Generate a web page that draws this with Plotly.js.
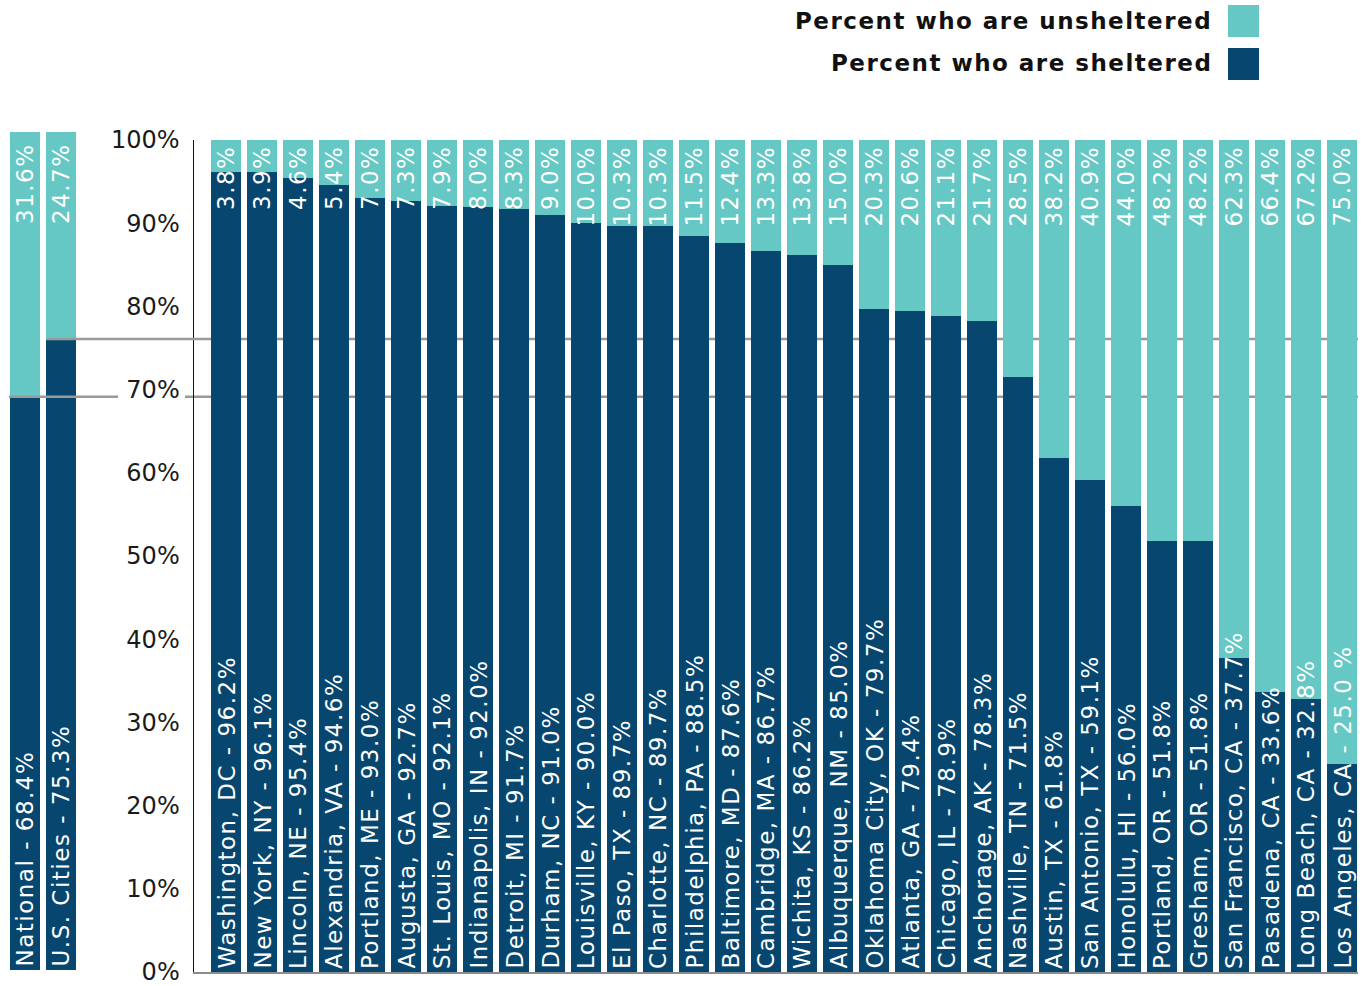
<!DOCTYPE html>
<html>
<head>
<meta charset="utf-8">
<script src="https://cdn.plot.ly/plotly-3.0.1.min.js"></script>
<style>
  html, body { margin: 0; padding: 0; background: #ffffff; }
  #chart { width: 1363px; height: 986px; }
  text.annotation-text { letter-spacing: 1.5px; }
</style>
</head>
<body>
<div id="chart"></div>
<script>
// ---------- data ----------
const cities = [
  "Washington, DC", "New York, NY", "Lincoln, NE", "Alexandria, VA", "Portland, ME",
  "Augusta, GA", "St. Louis, MO", "Indianapolis, IN", "Detroit, MI", "Durham, NC",
  "Louisville, KY", "El Paso, TX", "Charlotte, NC", "Philadelphia, PA", "Baltimore, MD",
  "Cambridge, MA", "Wichita, KS", "Albuquerque, NM", "Oklahoma City, OK", "Atlanta, GA",
  "Chicago, IL", "Anchorage, AK", "Nashville, TN", "Austin, TX", "San Antonio, TX",
  "Honolulu, HI", "Portland, OR", "Gresham, OR", "San Francisco, CA", "Pasadena, CA",
  "Long Beach, CA", "Los Angeles, CA"
];
const sheltered = [
  96.2, 96.1, 95.4, 94.6, 93.0, 92.7, 92.1, 92.0, 91.7, 91.0,
  90.0, 89.7, 89.7, 88.5, 87.6, 86.7, 86.2, 85.0, 79.7, 79.4,
  78.9, 78.3, 71.5, 61.8, 59.1, 56.0, 51.8, 51.8, 37.7, 33.6,
  32.8, 25.0
];
const unsheltered = [
  3.8, 3.9, 4.6, 5.4, 7.0, 7.3, 7.9, 8.0, 8.3, 9.0,
  10.0, 10.3, 10.3, 11.5, 12.4, 13.3, 13.8, 15.0, 20.3, 20.6,
  21.1, 21.7, 28.5, 38.2, 40.9, 44.0, 48.2, 48.2, 62.3, 66.4,
  67.2, 75.0
];
const summaryNames = ["National", "U.S. Cities"];
const summarySheltered = [68.4, 75.3];
const summaryUnsheltered = [31.6, 24.7];
const yTickValues = [0, 10, 20, 30, 40, 50, 60, 70, 80, 90, 100];
const yTickLabels = ["0%", "10%", "20%", "30%", "40%", "50%", "60%", "70%", "80%", "90%", "100%"];
const legendLabels = ["Percent who are unsheltered", "Percent who are sheltered"];

// ---------- style ----------
const DARK = "#07476f";
const LIGHT = "#66c8c5";
const FONT = "DejaVu Sans";
const W = 1358, H = 986;            // paper size (margin l=0, r=5, t=0, b=0)
const px = x => x / W;
const py = y => (H - y) / H;

function fmt(v) { return v.toFixed(1); }

const traces = [
  { type: "bar", x: cities, y: sheltered, name: legendLabels[1], marker: { color: DARK },
    xaxis: "x", yaxis: "y", hoverinfo: "x+y", showlegend: false },
  { type: "bar", x: cities, y: unsheltered, name: legendLabels[0], marker: { color: LIGHT },
    xaxis: "x", yaxis: "y", hoverinfo: "x+y", showlegend: false },
  { type: "bar", x: summaryNames, y: summarySheltered, name: legendLabels[1], marker: { color: DARK },
    xaxis: "x2", yaxis: "y2", hoverinfo: "x+y", showlegend: false },
  { type: "bar", x: summaryNames, y: summaryUnsheltered, name: legendLabels[0], marker: { color: LIGHT },
    xaxis: "x2", yaxis: "y2", hoverinfo: "x+y", showlegend: false }
];

const labelFont = { family: FONT, size: 23, color: "#ffffff" };
const annotations = [];
cities.forEach((c, i) => {
  annotations.push({ x: c, y: 0, xref: "x", yref: "y", text: c + " - " + fmt(sheltered[i]) + (c === "Los Angeles, CA" ? " %" : "%"),
    textangle: -90, showarrow: false, xanchor: "center", yanchor: "bottom", yshift: 1, font: labelFont });
  annotations.push({ x: c, y: 100, xref: "x", yref: "y", text: fmt(unsheltered[i]) + "%",
    textangle: -90, showarrow: false, xanchor: "center", yanchor: "top", yshift: -4, font: labelFont });
});
summaryNames.forEach((c, i) => {
  annotations.push({ x: c, y: 0, xref: "x2", yref: "y2", text: c + " - " + fmt(summarySheltered[i]) + "%",
    textangle: -90, showarrow: false, xanchor: "center", yanchor: "bottom", yshift: 1, font: labelFont });
  annotations.push({ x: c, y: 100, xref: "x2", yref: "y2", text: fmt(summaryUnsheltered[i]) + "%",
    textangle: -90, showarrow: false, xanchor: "center", yanchor: "top", yshift: -9, font: labelFont });
});
// legend (text right, swatch to the right of it)
const legendFont = { family: FONT, size: 23, color: "#111111", weight: "bold" };
annotations.push({ x: px(1214), y: py(21), xref: "paper", yref: "paper", text: legendLabels[0],
  showarrow: false, xanchor: "right", yanchor: "middle", font: legendFont });
annotations.push({ x: px(1214), y: py(63), xref: "paper", yref: "paper", text: legendLabels[1],
  showarrow: false, xanchor: "right", yanchor: "middle", font: legendFont });

const shapes = [
  // legend swatches
  { type: "rect", xref: "paper", yref: "paper", x0: px(1228), x1: px(1259), y0: py(37), y1: py(5),
    fillcolor: LIGHT, line: { width: 0 } },
  { type: "rect", xref: "paper", yref: "paper", x0: px(1228), x1: px(1259), y0: py(80), y1: py(48),
    fillcolor: DARK, line: { width: 0 } },
  // reference lines: U.S. Cities sheltered share
  { type: "line", xref: "paper", yref: "y2", x0: px(46), x1: px(194), y0: summarySheltered[1], y1: summarySheltered[1],
    line: { color: "#9a9a9a", width: 2.5 }, layer: "above" },
  { type: "line", xref: "paper", yref: "y2", x0: px(194), x1: 1, y0: summarySheltered[1], y1: summarySheltered[1],
    line: { color: "#9a9a9a", width: 2.5 }, layer: "below" },
  // reference lines: National sheltered share
  { type: "line", xref: "paper", yref: "y2", x0: px(9), x1: px(118), y0: summarySheltered[0], y1: summarySheltered[0],
    line: { color: "#9a9a9a", width: 2.5 }, layer: "above" },
  { type: "line", xref: "paper", yref: "y2", x0: px(185), x1: 1, y0: summarySheltered[0], y1: summarySheltered[0],
    line: { color: "#9a9a9a", width: 2.5 }, layer: "below" }
];

const layout = {
  width: 1363, height: 986,
  margin: { l: 0, r: 5, t: 0, b: 0, autoexpand: false },
  paper_bgcolor: "#ffffff",
  plot_bgcolor: "rgba(0,0,0,0)",
  barmode: "stack",
  bargap: 1 / 6,
  showlegend: false,
  font: { family: FONT, color: "#1a1a1a" },
  xaxis: {
    domain: [px(194), 1], range: [-0.8889, 31.444], type: "category",
    showticklabels: false, ticks: "", showgrid: false, zeroline: false,
    showline: true, linecolor: "#8c8c8c", linewidth: 2, fixedrange: true
  },
  yaxis: {
    domain: [py(972), py(140)], range: [0, 100],
    tickmode: "array", tickvals: yTickValues, ticktext: yTickLabels, ticks: "", ticklabelstandoff: 8,
    ticklabeloverflow: "allow",
    tickfont: { family: FONT, size: 24, color: "#1a1a1a" },
    showgrid: false, zeroline: false, showline: true, linecolor: "#111111", linewidth: 1.5,
    fixedrange: true
  },
  xaxis2: {
    domain: [px(9), px(76)], range: [-0.4306, 1.4306], type: "category", anchor: "y2",
    showticklabels: false, ticks: "", showgrid: false, zeroline: false, showline: false, fixedrange: true
  },
  yaxis2: {
    domain: [py(970), py(132)], range: [0, 100], anchor: "x2",
    showticklabels: false, ticks: "", showgrid: false, zeroline: false, showline: false, fixedrange: true
  },
  annotations: annotations,
  shapes: shapes
};

Plotly.newPlot("chart", traces, layout, { displayModeBar: false, staticPlot: true });
</script>
</body>
</html>
